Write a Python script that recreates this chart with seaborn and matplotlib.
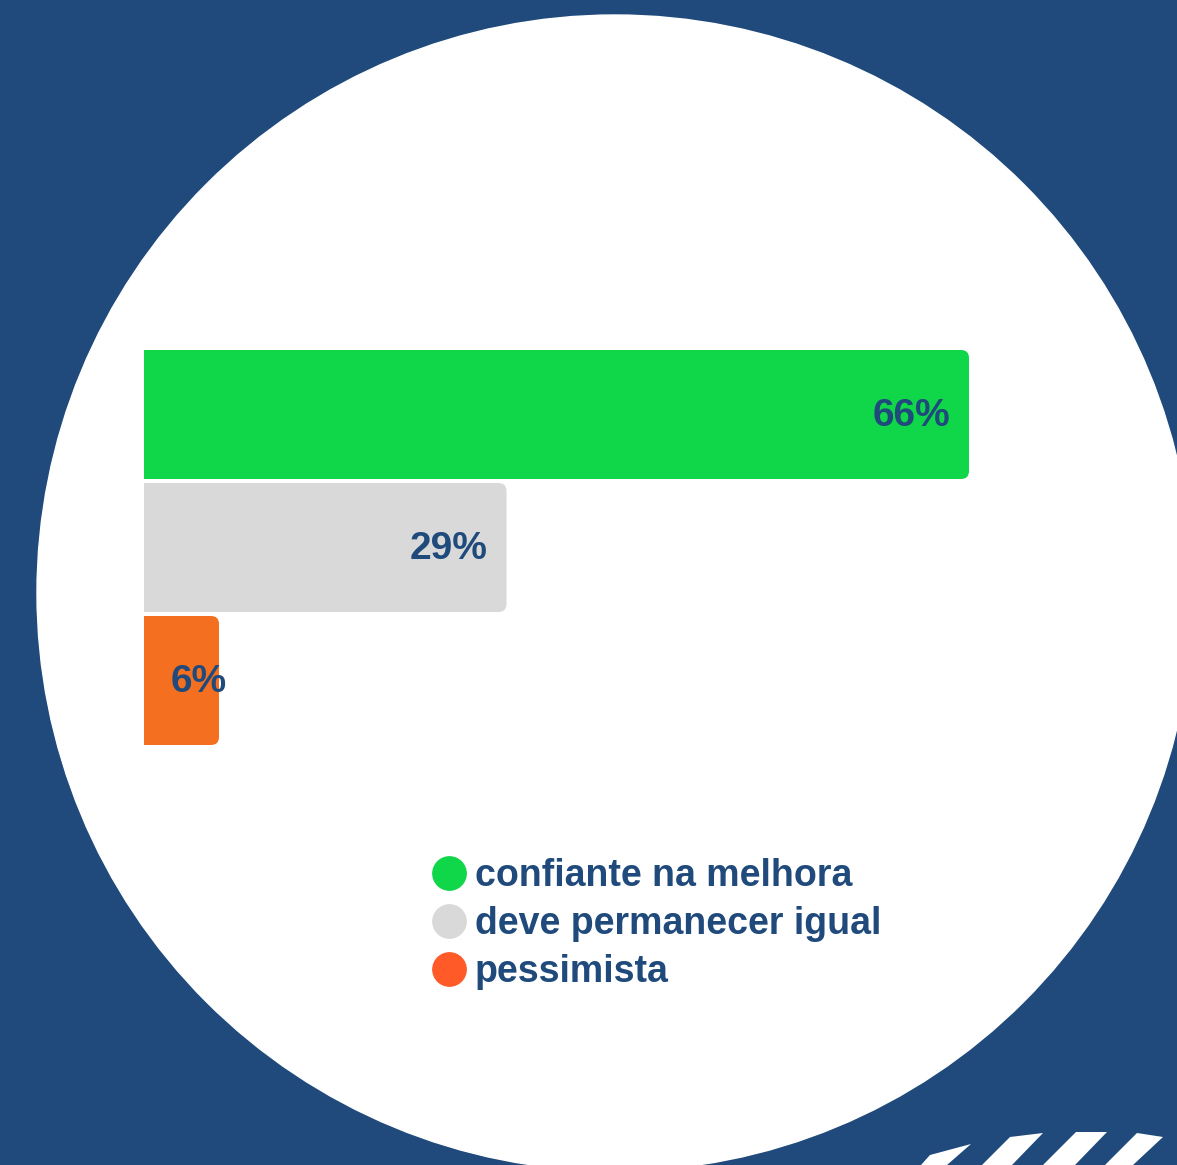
import matplotlib
matplotlib.use("Agg")
import matplotlib.pyplot as plt
import seaborn as sns
from matplotlib.patches import Circle, Polygon, FancyBboxPatch
from matplotlib.lines import Line2D

# dados
categorias = ["confiante na melhora", "deve permanecer igual", "pessimista"]
valores = [66, 29, 6]
rotulos = ["66%", "29%", "6%"]
cores_barras = ["#10d64a", "#d9d9d9", "#f47020"]
cores_legenda = ["#10d64a", "#d9d9d9", "#ff5a28"]

fundo = "#1f4a7b"
texto = "#1f4a7b"

sns.set_theme(style="white")
plt.rcParams['font.family'] = ['Liberation Sans', 'DejaVu Sans']

W, H = 1177, 1165
fig = plt.figure(figsize=(W / 100, H / 100), dpi=100, facecolor=fundo)

# camada de fundo em pixels
bg = fig.add_axes([0, 0, 1, 1])
bg.set_xlim(0, W)
bg.set_ylim(H, 0)
bg.axis("off")
bg.add_patch(Circle((615, 593), 578, color="white"))
listras = [
    [(921, 1165), (930, 1155), (971, 1144), (947, 1165)],
    [(982, 1165), (1010, 1137), (1043, 1133), (1012, 1165)],
    [(1043, 1165), (1076, 1132), (1107, 1132), (1075, 1165)],
    [(1105, 1165), (1137, 1133), (1163, 1137), (1133, 1165)],
]
for pts in listras:
    bg.add_patch(Polygon(pts, closed=True, color="white", lw=0))

# grafico de barras
ax = fig.add_axes([144 / W, 1 - 747 / H, 1000 / W, 399 / H])
ax.patch.set_alpha(0)
sns.barplot(x=valores, y=categorias, hue=categorias, palette=cores_barras,
            width=0.97, orient="h", legend=False, saturation=1, ax=ax)
ax.set_xlim(0, 80)
ax.set_ylim(2.5, -0.5)

# cantos arredondados
for p in list(ax.patches):
    x, y, w, h = p.get_x(), p.get_y(), p.get_width(), p.get_height()
    cor = p.get_facecolor()
    p.set_visible(False)
    ax.add_patch(FancyBboxPatch((x - 2, y), w + 2, h,
                                boxstyle="round,pad=0,rounding_size=0.64",
                                mutation_aspect=12.5 / 133,
                                facecolor=cor, edgecolor="none", clip_on=True))

for i, (v, r) in enumerate(zip(valores, rotulos)):
    ax.text(max(v - 1.5, 6.6), i + 0.015, r, ha="right", va="center",
            fontsize=28, fontweight="bold", color=texto)

ax.set_xlabel("")
ax.set_ylabel("")
ax.set_xticks([])
ax.set_yticks([])
sns.despine(ax=ax, left=True, bottom=True)

# legenda
handles = [Line2D([], [], marker="o", linestyle="", markersize=24,
                  markerfacecolor=c, markeredgecolor=c) for c in cores_legenda]
leg = fig.legend(handles, categorias, loc="upper left",
                 bbox_to_anchor=(411 / W, 1 - 839 / H), frameon=False,
                 borderpad=0, handlelength=1.0, handletextpad=0.2,
                 labelspacing=0.33, prop={"size": 27, "weight": "bold"})
for t in leg.get_texts():
    t.set_color(texto)

fig.savefig("out.png", dpi=100, facecolor=fundo)
